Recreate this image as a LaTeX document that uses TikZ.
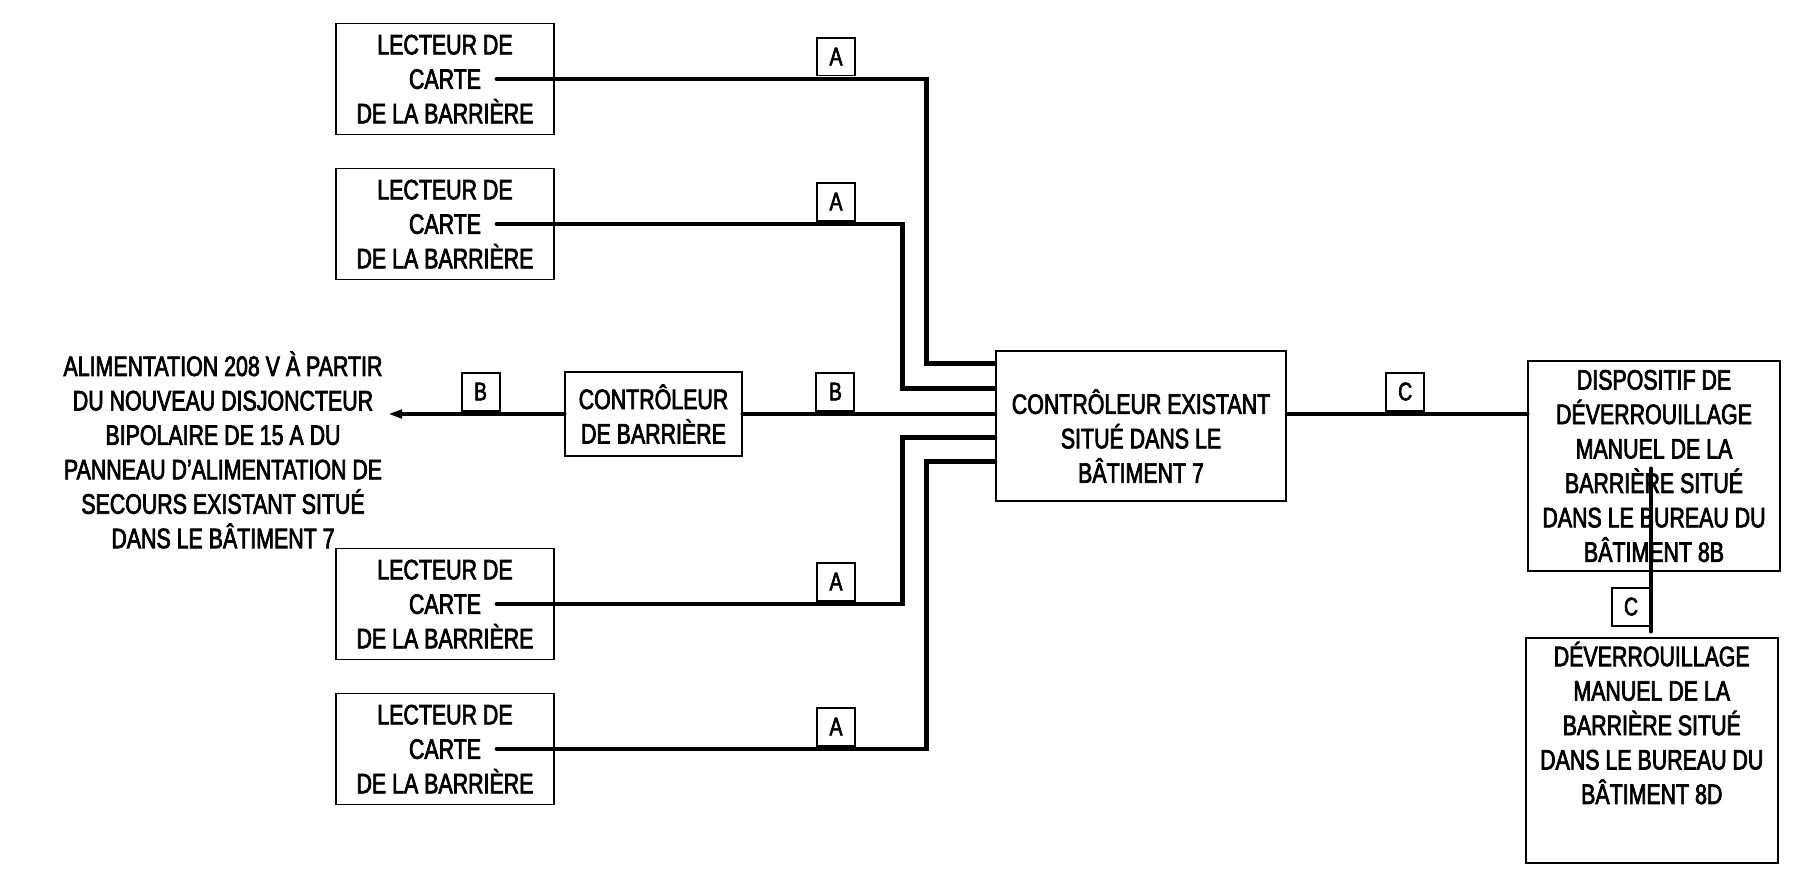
\documentclass[tikz,border=0pt]{standalone}
\usepackage{fontspec}
\setmainfont{Liberation Sans}[FakeStretch=0.76, FakeBold=2.5]
\usetikzlibrary{arrows.meta,calc}

\tikzset{
  box/.style={draw, line width=1.1pt, align=center, inner sep=0pt},
  txt/.style={align=center, inner sep=0pt},
  lab/.style={draw, line width=1.1pt, minimum size=0.76cm, inner sep=0pt, font=\fontsize{14.5}{17}\selectfont},
  wire/.style={line width=2.8pt, line cap=round},
}

\begin{document}
\begin{tikzpicture}[x=0.02cm, y=-0.02cm, font=\fontsize{16}{19.6}\selectfont]
    \useasboundingbox (0,0) rectangle (1814,882);
    % lecteurs de carte
    \foreach \n/\y in {1/79, 2/224, 3/604, 4/749} {
        \node[box, minimum width=4.36cm, minimum height=2.22cm] (l\n) at (445,\y) {LECTEUR DE\\CARTE\\DE LA BARRIÈRE};
        \coordinate (s\n) at ($(l\n.center)+(52,0)$);
    }
    % controleurs
    \node[box, minimum width=5.81cm, minimum height=3cm] (ctl) at (1141,426) {};
    \node[txt] (ctltxt) at (1141,436) {CONTRÔLEUR EXISTANT\\SITUÉ DANS LE\\BÂTIMENT 7};
    \node[box, minimum width=3.54cm, minimum height=1.68cm] (cb) at (653.5,414) {CONTRÔLEUR\\DE BARRIÈRE};
    % deverrouillage
    \node[box, minimum width=5.04cm, minimum height=4.2cm] (d1) at (1654,466) {DISPOSITIF DE\\DÉVERROUILLAGE\\MANUEL DE LA\\BARRIÈRE SITUÉ\\DANS LE BUREAU DU\\BÂTIMENT 8B};
    \node[box, minimum width=5.05cm, minimum height=4.5cm] (d2) at (1651.75,750.5) {};
    \node[txt] (d2txt) at (1651.75,723) {DÉVERROUILLAGE\\MANUEL DE LA\\BARRIÈRE SITUÉ\\DANS LE BUREAU DU\\BÂTIMENT 8D};
    % alimentation
    \node[txt] (pwr) at (223,450) {ALIMENTATION 208 V À PARTIR\\DU NOUVEAU DISJONCTEUR\\BIPOLAIRE DE 15 A DU\\PANNEAU D’ALIMENTATION DE\\SECOURS EXISTANT SITUÉ\\DANS LE BÂTIMENT 7};
    \coordinate (tip) at ($(cb.west)+(-182,0)$);
    % entrees du controleur existant
    \foreach \k/\dy in {1/13, 2/38, 4/87, 5/111}
        \coordinate (in\k) at ($(ctl.north west)+(0,\dy)$);
    \foreach \n/\k/\dx in {1/1/68, 2/2/92, 3/4/92, 4/5/68} {
        \draw[wire] (s\n) -| ($(in\k)+(-\dx,0)$) -- (in\k);
        \node[lab, anchor=south] (a\n) at ($(s\n)+(339,-2.5)$) {A};
    }
    \draw[wire, -{Triangle[length=0.4cm, width=0.14cm]}] (cb.west) -- (tip);
    \node[lab, anchor=south] (b1) at ($(cb.west)+(-83.5,-2.5)$) {B};
    \draw[wire] (cb.east) -- (cb.east -| ctl.west);
    \node[lab, anchor=south] (b2) at ($(cb.east)+(92.5,-2.5)$) {B};
    \draw[wire] (cb.east -| ctl.east) -- (cb.east -| d1.west);
    \node[lab, anchor=south] (c1) at ($(cb.east -| ctl.east)+(118,-2.5)$) {C};
    \draw[wire] ($(d1.south)+(-3,-103)$) -- ($(d2.north)+(-0.75,-6)$);
    \node[lab, anchor=east] (c2) at ($(d2.north)+(-0.75,-30.5)$) {C};
\end{tikzpicture}
\end{document}
